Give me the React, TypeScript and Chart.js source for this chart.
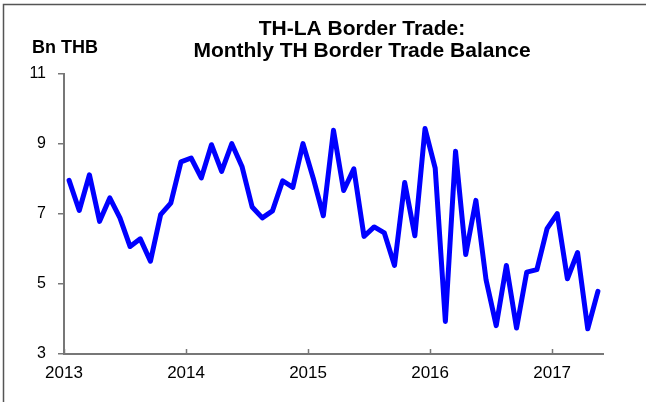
import React, { useEffect, useRef } from "react";
import { Chart, registerables } from "chart.js";

Chart.register(...registerables);

// ---- Data ----
const titleLines = ["TH-LA Border Trade:", "Monthly TH Border Trade Balance"];
const unitLabel = "Bn THB";
const yearLabels = ["2013", "2014", "2015", "2016", "2017"];
const yTickValues = [3, 5, 7, 9, 11];
// Monthly TH border trade balance with Laos, Jan 2013 .. May 2017 (Bn THB)
const tradeBalance = [
  7.96, 7.10, 8.12, 6.79, 7.46, 6.89, 6.07, 6.29, 5.65, 6.98, 7.31, 8.49,
  8.60, 8.03, 8.98, 8.22, 9.01, 8.36, 7.20, 6.89, 7.09, 7.95, 7.76, 9.01,
  8.03, 6.95, 9.39, 7.67, 8.29, 6.36, 6.63, 6.46, 5.53, 7.90, 6.38, 9.44,
  8.31, 3.93, 8.79, 5.84, 7.39, 5.12, 3.81, 5.53, 3.74, 5.34, 5.41, 6.58,
  7.01, 5.15, 5.90, 3.72, 4.79,
];
const monthsOnAxis = 53;

const FONT = "'Liberation Sans', Arial, Helvetica, sans-serif";

export default function App() {
  const canvasRef = useRef<HTMLCanvasElement | null>(null);

  useEffect(() => {
    document.body.style.margin = "0";
    const canvas = canvasRef.current;
    if (!canvas) return;

    const decorPlugin = {
      id: "decor",
      beforeDraw(chart: any) {
        const ctx = chart.ctx;
        ctx.save();
        ctx.fillStyle = "#ffffff";
        ctx.fillRect(0, 0, chart.width, chart.height);
        ctx.strokeStyle = "#555555";
        ctx.lineWidth = 1.5;
        ctx.beginPath();
        ctx.moveTo(3.5, chart.height + 5);
        ctx.lineTo(3.5, 4.5);
        ctx.lineTo(chart.width + 5, 4.5);
        ctx.stroke();
        ctx.restore();
      },
      afterDraw(chart: any) {
        const ctx = chart.ctx;
        const xs = chart.scales.x;
        const area = chart.chartArea;
        ctx.save();
        // inward x ticks
        ctx.strokeStyle = "#777777";
        ctx.lineWidth = 1.5;
        xs.ticks.forEach((t: any) => {
          const px = Math.round(xs.getPixelForValue(t.value)) + 0.5;
          ctx.beginPath();
          ctx.moveTo(px, area.bottom);
          ctx.lineTo(px, area.bottom - 5);
          ctx.stroke();
        });
        // titles
        ctx.fillStyle = "#000000";
        ctx.textAlign = "center";
        ctx.textBaseline = "alphabetic";
        ctx.font = `bold 21px ${FONT}`;
        ctx.fillText(titleLines[0], 362, 35);
        ctx.fillText(titleLines[1], 362, 57);
        ctx.textAlign = "left";
        ctx.font = `bold 18px ${FONT}`;
        ctx.fillText(unitLabel, 32, 53);
        ctx.restore();
      },
    };

    const chart = new Chart(canvas, {
      type: "line",
      data: {
        datasets: [
          {
            data: tradeBalance.map((v, i) => ({ x: i + 0.5, y: v })),
            borderColor: "#0000ff",
            borderWidth: 5,
            pointRadius: 0,
            borderJoinStyle: "round",
            borderCapStyle: "round",
            tension: 0,
            fill: false,
          },
        ],
      },
      options: {
        animation: false,
        responsive: false,
        devicePixelRatio: 1,
        layout: { padding: { top: 74, right: 43, left: 0, bottom: 0 } },
        plugins: {
          legend: { display: false },
          tooltip: { enabled: false },
          title: { display: false },
        },
        scales: {
          x: {
            type: "linear",
            min: 0,
            max: monthsOnAxis,
            afterFit(scale: any) {
              scale.height = 48;
            },
            afterBuildTicks(scale: any) {
              scale.ticks = yearLabels.map((_, k) => ({ value: k * 12 }));
            },
            ticks: {
              autoSkip: false,
              maxRotation: 0,
              padding: 9,
              color: "#000000",
              font: { family: FONT, size: 17 },
              callback: (v: any) => yearLabels[Math.round(Number(v) / 12)] ?? "",
            },
            grid: { display: true, drawOnChartArea: false, drawTicks: false, color: "#777777" },
            border: { display: true, color: "#777777", width: 2 },
          },
          y: {
            min: 3,
            max: 11,
            afterFit(scale: any) {
              scale.width = 64;
            },
            afterBuildTicks(scale: any) {
              scale.ticks = yTickValues.map((v) => ({ value: v }));
            },
            ticks: {
              padding: 12,
              color: "#000000",
              font: { family: FONT, size: 16 },
              callback: (v: any) => String(v),
            },
            grid: {
              display: true,
              drawOnChartArea: false,
              drawTicks: true,
              tickLength: 6,
              color: "#777777",
              lineWidth: 1.5,
            },
            border: { display: true, color: "#777777", width: 2 },
          },
        },
      },
      plugins: [decorPlugin],
    });

    return () => chart.destroy();
  }, []);

  return (
    <div style={{ width: 646, height: 402 }}>
      <canvas ref={canvasRef} width={646} height={402} style={{ display: "block" }} />
    </div>
  );
}
